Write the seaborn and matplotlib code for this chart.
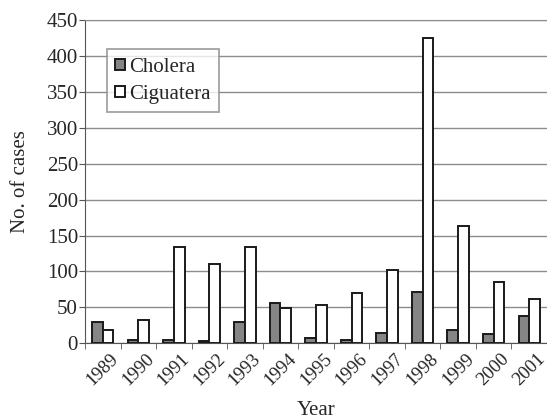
import numpy as np
import pandas as pd
import seaborn as sns
import matplotlib.pyplot as plt

years = ["1989", "1990", "1991", "1992", "1993", "1994", "1995",
         "1996", "1997", "1998", "1999", "2000", "2001"]
cholera = [29, 5, 5, 3, 30, 56, 7, 5, 14, 71, 18, 13, 38]
ciguatera = [18, 33, 134, 110, 134, 49, 53, 70, 102, 425, 163, 85, 62]

df = pd.DataFrame({
    "Year": years * 2,
    "Cases": cholera + ciguatera,
    "Disease": ["Cholera"] * len(years) + ["Ciguatera"] * len(years),
})

sns.set_style("white")
plt.rcParams["font.family"] = ["Liberation Serif", "DejaVu Serif"]

fig = plt.figure(figsize=(5.47, 4.2), dpi=100)
ax = fig.add_axes([0.1554, 0.1826, 0.8446, 0.7694])

sns.barplot(data=df, x="Year", y="Cases", hue="Disease",
            palette={"Cholera": "#858585", "Ciguatera": "white"},
            edgecolor="#1a1a1a", linewidth=1.4, width=0.6,
            ax=ax, zorder=3)

ax.set_ylim(0, 450)
ax.set_yticks(range(0, 451, 50))
ax.set_xlim(-0.5, len(years) - 0.5)
ax.yaxis.grid(True, color="#8c8c8c", linewidth=1.0, zorder=0)
ax.set_axisbelow(True)

ax.spines["right"].set_visible(False)
ax.spines["top"].set_color("#8c8c8c")
ax.spines["left"].set_color("#555555")
ax.spines["bottom"].set_color("#555555")

ax.tick_params(axis="y", length=4, color="#555555", labelsize=15, direction="out", left=True, pad=1)
ax.tick_params(axis="x", which="major", length=0, labelsize=13.5, pad=5)
ax.set_xticks(np.arange(-0.5, len(years), 1), minor=True)
ax.tick_params(axis="x", which="minor", length=4, color="#555555", direction="out", bottom=True)
plt.setp(ax.get_xticklabels(), rotation=45, ha="center")

ax.set_xlabel("Year", fontsize=15)
ax.set_ylabel("No. of cases", fontsize=15)
ax.xaxis.set_label_coords(0.5, -0.178)
ax.yaxis.set_label_coords(-0.118, 0.5)

leg = ax.legend(loc="upper left", bbox_to_anchor=(0.0476, 0.91), fontsize=15,
                frameon=True, fancybox=False, edgecolor="#8c8c8c",
                handlelength=0.45, handleheight=0.45, handletextpad=0.2,
                borderpad=0.4, labelspacing=0.4, borderaxespad=0)
leg.get_frame().set_linewidth(1.3)

fig.savefig("out.png", dpi=100)
